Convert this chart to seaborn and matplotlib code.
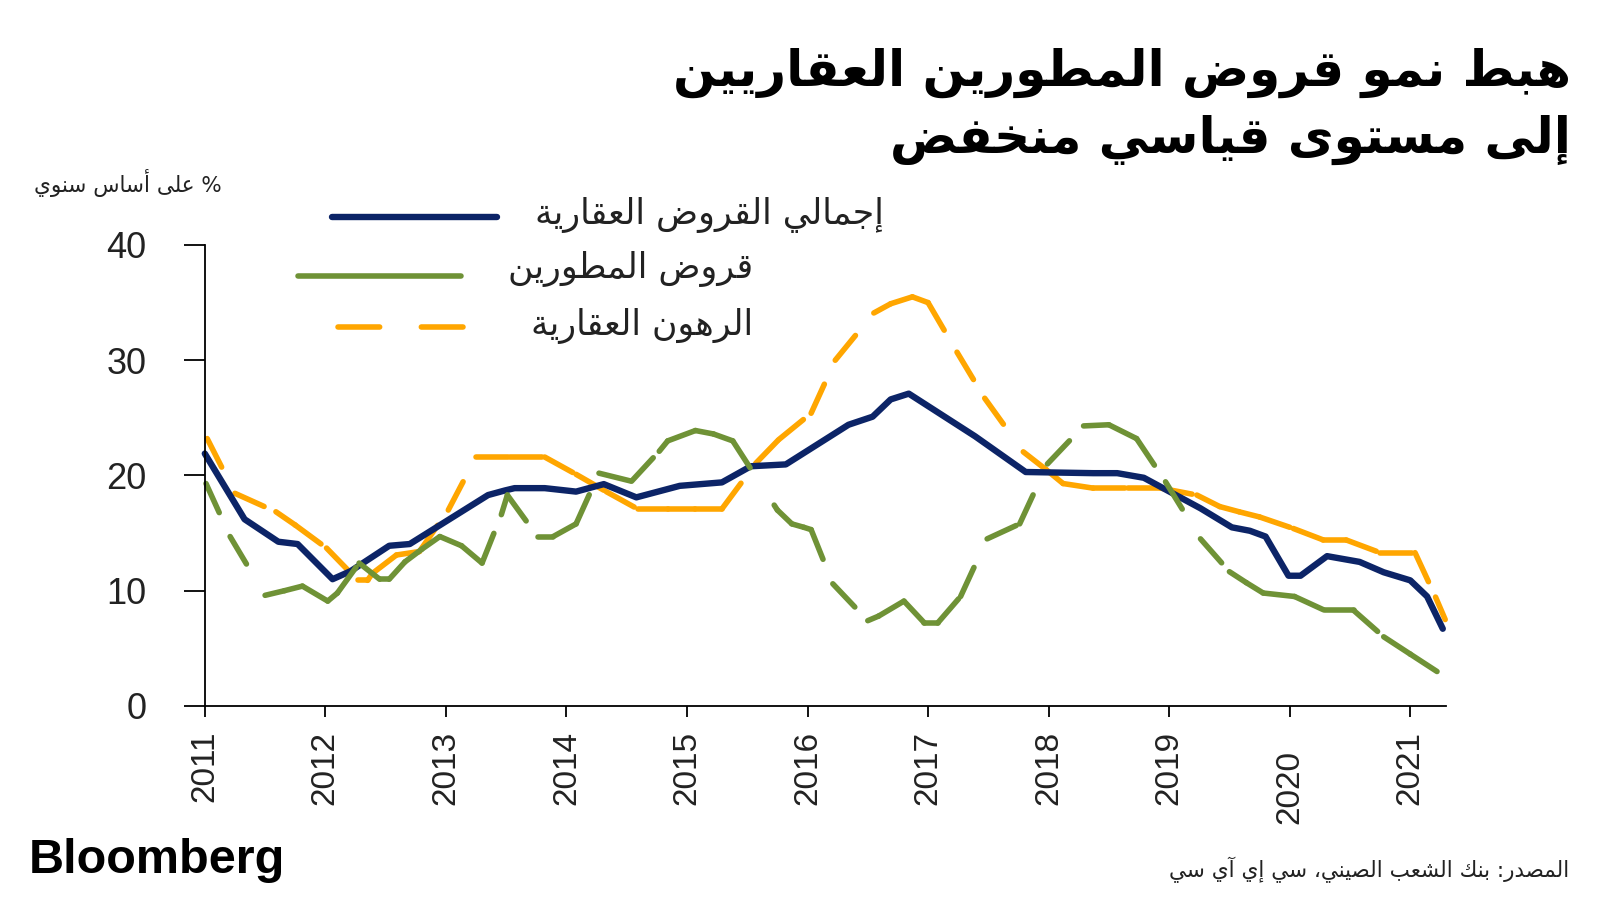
import matplotlib
matplotlib.use("Agg")
import matplotlib.pyplot as plt
import pandas as pd
import seaborn as sns
from matplotlib.lines import Line2D
from matplotlib.transforms import ScaledTranslation

# %% data (fractional year, % y/y)
total_x = [2011.00, 2011.33, 2011.61, 2011.77, 2012.06, 2012.21, 2012.53, 2012.70, 2013.35, 2013.49,
           2013.57, 2013.82, 2014.08, 2014.31, 2014.58, 2014.94, 2015.29, 2015.53, 2015.82, 2016.34,
           2016.54, 2016.69, 2016.84, 2017.39, 2017.81, 2018.37, 2018.57, 2018.79, 2019.26, 2019.52,
           2019.67, 2019.80, 2019.99, 2020.09, 2020.31, 2020.58, 2020.78, 2021.00, 2021.14, 2021.27]
total_y = [21.9, 16.2, 14.25, 14.05, 11.0, 11.7, 13.9, 14.05, 18.3, 18.7,
           18.9, 18.9, 18.6, 19.25, 18.1, 19.1, 19.4, 20.8, 20.96, 24.4,
           25.1, 26.6, 27.1, 23.4, 20.3, 20.2, 20.2, 19.8, 17.15, 15.5,
           15.2, 14.7, 11.3, 11.3, 13.0, 12.5, 11.6, 10.9, 9.5, 6.7]

dev_x = [2011.01, 2011.21, 2011.50, 2011.66, 2011.81, 2012.02, 2012.10, 2012.28, 2012.45, 2012.53,
         2012.66, 2012.80, 2012.95, 2013.13, 2013.30, 2013.46, 2013.51, 2013.76, 2013.89, 2014.08,
         2014.27, 2014.54, 2014.77, 2014.84, 2015.07, 2015.22, 2015.38, 2015.75, 2015.87, 2015.97,
         2016.03, 2016.21, 2016.50, 2016.59, 2016.80, 2016.97, 2017.08, 2017.27, 2017.49, 2017.76,
         2017.99, 2018.29, 2018.50, 2018.73, 2018.97, 2019.26, 2019.50, 2019.64, 2019.78, 2020.04,
         2020.29, 2020.53, 2020.78, 2021.00, 2021.25]
dev_y = [19.3, 14.7, 9.6, 10.0, 10.4, 9.1, 9.8, 12.4, 11.0, 11.0,
         12.5, 13.6, 14.7, 13.9, 12.4, 16.6, 18.3, 14.7, 14.7, 15.8,
         20.2, 19.5, 22.1, 23.0, 23.9, 23.6, 23.0, 17.0, 15.8, 15.5,
         15.3, 10.6, 7.4, 7.8, 9.1, 7.2, 7.2, 9.5, 14.5, 15.8,
         21.0, 24.3, 24.4, 23.2, 19.45, 14.5, 11.65, 10.7, 9.8, 9.5,
         8.3, 8.3, 6.0, 4.5, 2.8]

mort_x = [2011.02, 2011.25, 2011.59, 2011.75, 2012.01, 2012.27, 2012.35, 2012.39, 2012.59, 2012.78,
          2013.02, 2013.25, 2013.53, 2013.82, 2014.08, 2014.33, 2014.59, 2014.84, 2015.07, 2015.29,
          2015.57, 2015.76, 2016.03, 2016.23, 2016.55, 2016.69, 2016.87, 2017.00, 2017.24, 2017.47,
          2017.79, 2017.98, 2018.12, 2018.37, 2018.66, 2018.93, 2019.23, 2019.42, 2019.58, 2019.75,
          2020.03, 2020.28, 2020.47, 2020.75, 2021.04, 2021.21, 2021.29]
mort_y = [23.2, 18.45, 16.85, 15.7, 13.7, 10.9, 10.9, 11.5, 13.1, 13.4,
          17.0, 21.6, 21.6, 21.6, 20.1, 18.6, 17.1, 17.1, 17.1, 17.1,
          21.05, 23.1, 25.4, 30.0, 34.1, 34.9, 35.5, 35.0, 30.7, 26.7,
          22.05, 20.5, 19.3, 18.9, 18.9, 18.9, 18.3, 17.3, 16.85, 16.4,
          15.4, 14.4, 14.4, 13.3, 13.3, 9.45, 7.5]

years = list(range(2011, 2022))
yticks = [0, 10, 20, 30, 40]

title_lines = ["هبط نمو قروض المطورين العقاريين", "إلى مستوى قياسي منخفض"]
unit_label = "% على أساس سنوي"
legend_labels = ["إجمالي القروض العقارية", "قروض المطورين", "الرهون العقارية"]
source = "المصدر: بنك الشعب الصيني، سي إي آي سي"

NAVY = "#0c2467"
GREEN = "#6f9236"
ORANGE = "#ffa600"
DASH = (0, (5.75, 8))        # dash used on the chart lines
LEG_DASH = (0, (7.5, 7.5))   # the legend sample has longer dashes

# %% minimal arabic shaping (presentation forms) + right-to-left order
DUAL = {'ئ': 0xFE89, 'ب': 0xFE8F, 'ت': 0xFE95, 'ث': 0xFE99, 'ج': 0xFE9D, 'ح': 0xFEA1, 'خ': 0xFEA5,
        'س': 0xFEB1, 'ش': 0xFEB5, 'ص': 0xFEB9, 'ض': 0xFEBD, 'ط': 0xFEC1, 'ظ': 0xFEC5, 'ع': 0xFEC9,
        'غ': 0xFECD, 'ف': 0xFED1, 'ق': 0xFED5, 'ك': 0xFED9, 'ل': 0xFEDD, 'م': 0xFEE1, 'ن': 0xFEE5,
        'ه': 0xFEE9, 'ي': 0xFEF1}
RIGHT = {'آ': 0xFE81, 'أ': 0xFE83, 'ؤ': 0xFE85, 'إ': 0xFE87, 'ا': 0xFE8D, 'ة': 0xFE93, 'د': 0xFEA9,
         'ذ': 0xFEAB, 'ر': 0xFEAD, 'ز': 0xFEAF, 'و': 0xFEED, 'ى': 0xFEEF}
LAM_ALEF = {'آ': 0xFEF5, 'أ': 0xFEF7, 'إ': 0xFEF9, 'ا': 0xFEFB}


def shape(text):
    toks = []
    i = 0
    while i < len(text):
        c = text[i]
        if c == 'ل' and i + 1 < len(text) and text[i + 1] in LAM_ALEF:
            toks.append(('R', LAM_ALEF[text[i + 1]]))
            i += 2
            continue
        if c in DUAL:
            toks.append(('D', DUAL[c]))
        elif c in RIGHT:
            toks.append(('R', RIGHT[c]))
        else:
            toks.append((None, c))
        i += 1
    out = []
    for k, (kind, v) in enumerate(toks):
        if kind is None:
            out.append(v)
            continue
        prev_join = k > 0 and toks[k - 1][0] == 'D'
        next_join = kind == 'D' and k + 1 < len(toks) and toks[k + 1][0] is not None
        if kind == 'R':
            code = v + 1 if prev_join else v
        elif prev_join and next_join:
            code = v + 3
        elif prev_join:
            code = v + 1
        elif next_join:
            code = v + 2
        else:
            code = v
        out.append(chr(code))
    return "".join(out)[::-1]


def segments(xs, ys):
    # one unit per segment so the dash pattern restarts at every data point
    rows = []
    for i in range(len(xs) - 1):
        rows.append((xs[i], ys[i], i))
        rows.append((xs[i + 1], ys[i + 1], i))
    return pd.DataFrame(rows, columns=["year", "value", "seg"])


# %% plot
sns.set_style("white")
plt.rcParams['font.family'] = ['Liberation Sans', 'DejaVu Sans']

fig = plt.figure(figsize=(16, 9), dpi=100)
ax = fig.add_axes([0.128, 0.2156, 0.776, 0.5122])

line_kws = dict(estimator=None, units="seg", ax=ax, clip_on=False,
                solid_capstyle="round", dash_capstyle="round", solid_joinstyle="round")

sns.lineplot(data=segments(mort_x, mort_y), x="year", y="value", color=ORANGE,
             lw=4, linestyle=DASH, **line_kws)
sns.lineplot(data=pd.DataFrame({"year": total_x, "value": total_y}), x="year", y="value",
             color=NAVY, lw=4.6, ax=ax, clip_on=False,
             solid_capstyle="round", solid_joinstyle="round")
sns.lineplot(data=segments(dev_x, dev_y), x="year", y="value", color=GREEN,
             lw=4, linestyle=DASH, **line_kws)

ax.set_xlim(2011, 2021.3)
ax.set_ylim(0, 40)
ax.set_xticks(years)
ax.set_xticklabels([str(y) for y in years], rotation=90)
ax.set_yticks(yticks)
ax.set_xlabel("")
ax.set_ylabel("")
ax.tick_params(axis="y", left=True, length=15, width=1.3, pad=27, labelsize=26,
               color="black", labelcolor="#222222", direction="out")
ax.tick_params(axis="x", bottom=True, length=8, width=1.3, pad=10, labelsize=24,
               color="black", labelcolor="#222222", direction="out")
for s in ["top", "right"]:
    ax.spines[s].set_visible(False)
for s in ["left", "bottom"]:
    ax.spines[s].set_color("black")
    ax.spines[s].set_linewidth(1.3)
ax.grid(False)

# the 2020 label sits a little lower in the original
for lab in ax.get_xticklabels():
    if lab.get_text() == "2020":
        lab.set_transform(lab.get_transform() + ScaledTranslation(0, -14 / 72, fig.dpi_scale_trans))

# title
ar = dict(family="DejaVu Sans", ha="right", va="baseline")
fig.text(0.982, 0.905, shape(title_lines[0]), fontsize=36, weight="bold", color="black", **ar)
fig.text(0.982, 0.830, shape(title_lines[1]), fontsize=36, weight="bold", color="black", **ar)

# unit label
fig.text(222 / 1600, 1 - 192 / 900, shape(unit_label), fontsize=15.5, color="#222222", **ar)

# legend, laid out by hand like the original
W, H = 1600, 900
leg = [(NAVY, "-", 332, 497, 217, 884, 224),
       (GREEN, "-", 298, 461, 276, 753, 278),
       (ORANGE, LEG_DASH, 338, 463, 327, 753, 335)]
for (col, ls, x0, x1, yl, xt, yt), lab in zip(leg, legend_labels):
    fig.add_artist(Line2D([x0 / W, x1 / W], [1 - yl / H, 1 - yl / H], transform=fig.transFigure,
                          color=col, lw=4.6 if col == NAVY else 4, linestyle=ls,
                          solid_capstyle="round", dash_capstyle="round"))
    fig.text(xt / W, 1 - yt / H, shape(lab), fontsize=25, color="#222222", **ar)

# footer
fig.text(29 / W, 1 - 873 / H, "Bloomberg", fontsize=35, weight="bold", color="black",
         family="Liberation Sans", ha="left", va="baseline")
fig.text(1569 / W, 1 - 877 / H, shape(source), fontsize=15.5, color="#222222", **ar)

fig.savefig("out.png", dpi=100, facecolor="white")
